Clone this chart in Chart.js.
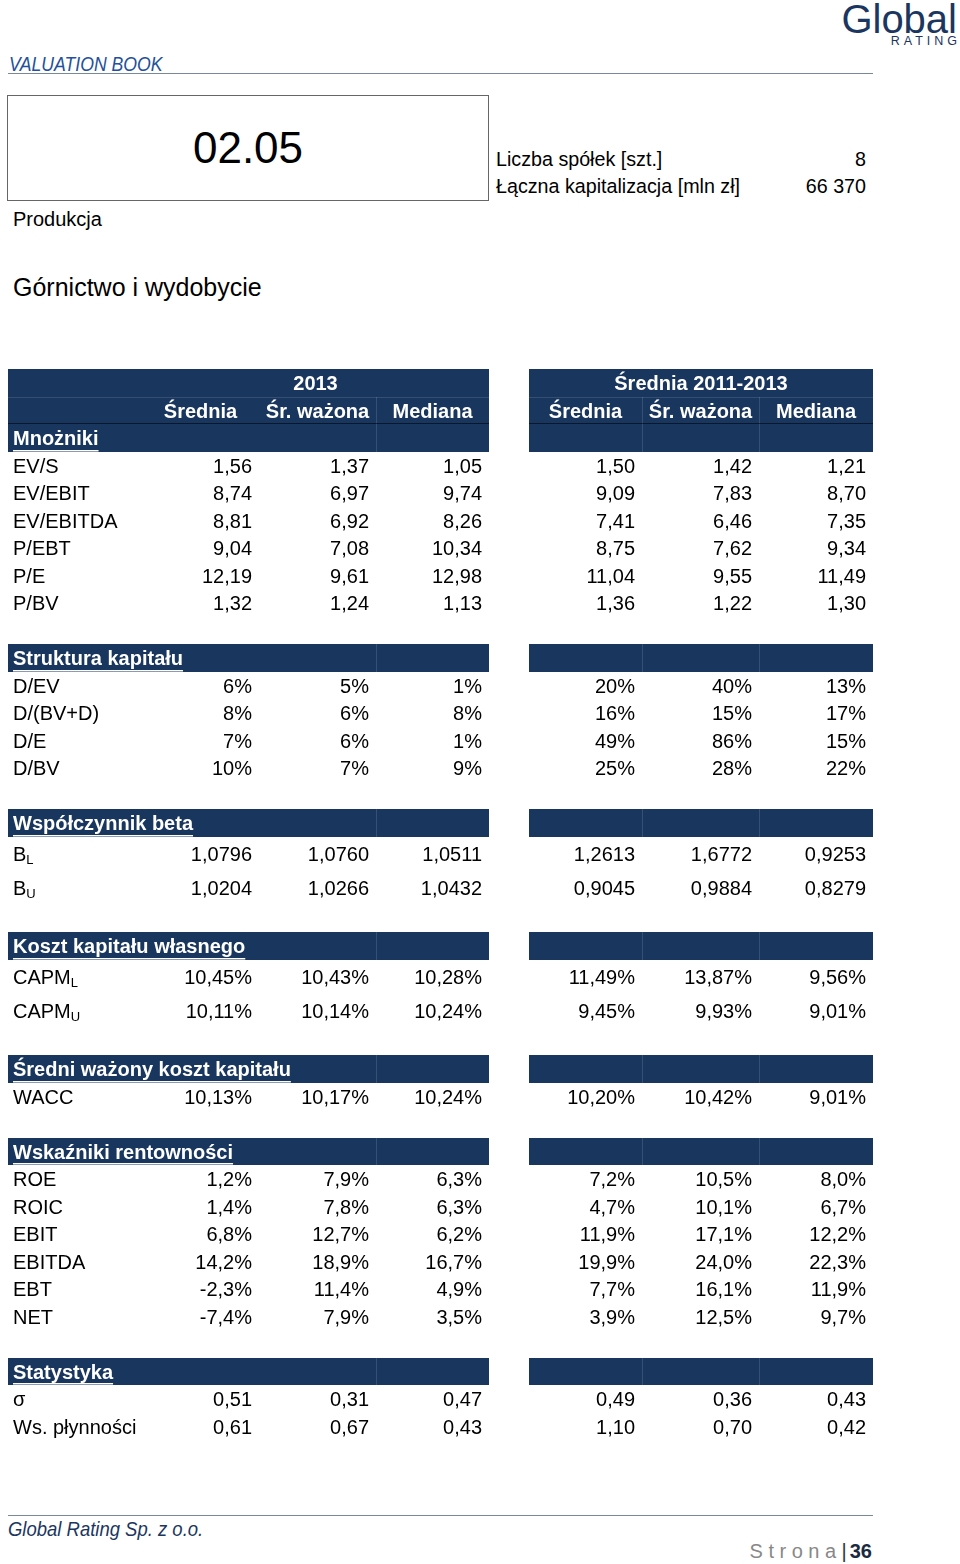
<!DOCTYPE html>
<html lang="pl">
<head>
<meta charset="utf-8">
<title>Valuation Book - Górnictwo i wydobycie</title>
<script src="https://cdn.jsdelivr.net/npm/chart.js@4.4.1/dist/chart.umd.min.js"></script>
<style>
  body { margin: 0; background: #fff; font-family: "Liberation Sans", Arial, sans-serif; color: #000; }
  #page { position: relative; width: 960px; height: 1564px; overflow: hidden; }
  .abs { position: absolute; white-space: nowrap; line-height: 1; }
  #table { position: absolute; left: 0; top: 369px; }
</style>
</head>
<body>
<div id="page">
  <div class="abs" style="right:3px; top:-1px; font-size:40px; color:#1b365f;">Global</div>
  <div class="abs" style="right:-1px; top:35px; font-size:12.5px; letter-spacing:4px; color:#1b365f;">RATING</div>
  <div class="abs" style="left:9px; top:53px; font-size:21px; font-style:italic; color:#23509a; transform:scaleX(0.84); transform-origin:left top;">VALUATION BOOK</div>
  <div class="abs" style="left:8px; top:73px; width:865px; height:1px; background:#7a889c;"></div>

  <div class="abs" style="left:7px; top:95px; width:480px; height:104px; border:1px solid #666; font-size:44px; line-height:104px; text-align:center;">02.05</div>
  <div class="abs" style="left:13px; top:209px; font-size:20px;">Produkcja</div>
  <div class="abs" style="left:496px; top:150px; font-size:19.7px;">Liczba spółek [szt.]</div>
  <div class="abs" style="right:94px; top:150px; font-size:19.7px;">8</div>
  <div class="abs" style="left:496px; top:177px; font-size:19.7px;">Łączna kapitalizacja [mln zł]</div>
  <div class="abs" style="right:94px; top:177px; font-size:19.7px;">66 370</div>
  <div class="abs" style="left:13px; top:275px; font-size:25px;">Górnictwo i wydobycie</div>

  <canvas id="table" width="960" height="1071"></canvas>

  <div class="abs" style="left:8px; top:1515px; width:865px; height:1px; background:#7a889c;"></div>
  <div class="abs" style="left:8px; top:1518px; font-size:21px; font-style:italic; color:#1b365f; transform:scaleX(0.88); transform-origin:left top;">Global Rating Sp. z o.o.</div>
  <div class="abs" style="right:88px; top:1541px; font-size:20px;">
    <span style="color:#888; letter-spacing:5.5px;">Strona</span><span style="color:#333;">|</span><b style="color:#1b2a40; margin-left:3px;">36</b>
  </div>
</div>

<script>
// column headers
const groupTitles = ['2013', 'Średnia 2011-2013'];
const statNames = ['Średnia', 'Śr. ważona', 'Mediana'];

// Mnożniki
const multipleLabels = ['EV/S', 'EV/EBIT', 'EV/EBITDA', 'P/EBT', 'P/E', 'P/BV'];
const multiples2013 = [[1.56, 1.37, 1.05], [8.74, 6.97, 9.74], [8.81, 6.92, 8.26], [9.04, 7.08, 10.34], [12.19, 9.61, 12.98], [1.32, 1.24, 1.13]];
const multiplesAvg = [[1.50, 1.42, 1.21], [9.09, 7.83, 8.70], [7.41, 6.46, 7.35], [8.75, 7.62, 9.34], [11.04, 9.55, 11.49], [1.36, 1.22, 1.30]];

// Struktura kapitału [%]
const capitalLabels = ['D/EV', 'D/(BV+D)', 'D/E', 'D/BV'];
const capital2013 = [[6, 5, 1], [8, 6, 8], [7, 6, 1], [10, 7, 9]];
const capitalAvg = [[20, 40, 13], [16, 15, 17], [49, 86, 15], [25, 28, 22]];

// Współczynnik beta
const betaLabels = ['B_L', 'B_U'];
const beta2013 = [[1.0796, 1.0760, 1.0511], [1.0204, 1.0266, 1.0432]];
const betaAvg = [[1.2613, 1.6772, 0.9253], [0.9045, 0.9884, 0.8279]];

// Koszt kapitału własnego [%]
const equityLabels = ['CAPM_L', 'CAPM_U'];
const equity2013 = [[10.45, 10.43, 10.28], [10.11, 10.14, 10.24]];
const equityAvg = [[11.49, 13.87, 9.56], [9.45, 9.93, 9.01]];

// Średni ważony koszt kapitału [%]
const waccLabels = ['WACC'];
const wacc2013 = [[10.13, 10.17, 10.24]];
const waccAvg = [[10.20, 10.42, 9.01]];

// Wskaźniki rentowności [%]
const profitLabels = ['ROE', 'ROIC', 'EBIT', 'EBITDA', 'EBT', 'NET'];
const profit2013 = [[1.2, 7.9, 6.3], [1.4, 7.8, 6.3], [6.8, 12.7, 6.2], [14.2, 18.9, 16.7], [-2.3, 11.4, 4.9], [-7.4, 7.9, 3.5]];
const profitAvg = [[7.2, 10.5, 8.0], [4.7, 10.1, 6.7], [11.9, 17.1, 12.2], [19.9, 24.0, 22.3], [7.7, 16.1, 11.9], [3.9, 12.5, 9.7]];

// Statystyka
const statLabels = ['σ', 'Ws. płynności'];
const stat2013 = [[0.51, 0.31, 0.47], [0.61, 0.67, 0.43]];
const statAvg = [[0.49, 0.36, 0.43], [1.10, 0.70, 0.42]];

const sections = [
  { title: 'Mnożniki', labels: multipleLabels, a: multiples2013, b: multiplesAvg, dec: 2, pct: false },
  { title: 'Struktura kapitału', labels: capitalLabels, a: capital2013, b: capitalAvg, dec: 0, pct: true },
  { title: 'Współczynnik beta', labels: betaLabels, a: beta2013, b: betaAvg, dec: 4, pct: false, tall: true },
  { title: 'Koszt kapitału własnego', labels: equityLabels, a: equity2013, b: equityAvg, dec: 2, pct: true, tall: true },
  { title: 'Średni ważony koszt kapitału', labels: waccLabels, a: wacc2013, b: waccAvg, dec: 2, pct: true },
  { title: 'Wskaźniki rentowności', labels: profitLabels, a: profit2013, b: profitAvg, dec: 1, pct: true },
  { title: 'Statystyka', labels: statLabels, a: stat2013, b: statAvg, dec: 2, pct: false }
];

// layout (styles only)
const NAVY = '#19365f';
const FONT = '"Liberation Sans", Arial, sans-serif';
const layout = {
  rowH: 27.5, tallH: 34, labelX: 13, pad: 7, textDy: 2,
  groups: [
    { left: 8, right: 489, cols: [142, 259, 376, 489], seps: [376] },
    { left: 529, right: 873, cols: [529, 642, 759, 873], seps: [642, 759] }
  ]
};

function fmt(v, s) {
  return v.toFixed(s.dec).replace('.', ',') + (s.pct ? '%' : '');
}

// rows of the table
const rows = [];
let cursor = 0;
function addRow(kind, h, extra) {
  rows.push(Object.assign({ kind: kind, top: cursor, h: h }, extra || {}));
  cursor += h;
}
addRow('head1', layout.rowH);
addRow('head2', layout.rowH);
sections.forEach((s, si) => {
  if (si > 0) addRow('gap', layout.rowH);
  addRow('section', layout.rowH, { title: s.title });
  s.labels.forEach((lab, i) => {
    addRow('data', s.tall ? layout.tallH : layout.rowH, { label: lab, vals: [s.a[i], s.b[i]], sec: s });
  });
});
const totalH = cursor;

// one point per cell
const cells = [];
rows.forEach(r => {
  const cy = r.top + r.h / 2;
  if (r.kind === 'head1') {
    layout.groups.forEach((g, gi) => cells.push({ x: (g.cols[0] + g.cols[3]) / 2, y: cy, t: groupTitles[gi], align: 'center', style: 'head' }));
  } else if (r.kind === 'head2') {
    layout.groups.forEach(g => statNames.forEach((n, k) =>
      cells.push({ x: (g.cols[k] + g.cols[k + 1]) / 2, y: cy, t: n, align: 'center', style: 'head' })));
  } else if (r.kind === 'section') {
    cells.push({ x: layout.labelX, y: cy, t: r.title, align: 'left', style: 'section' });
  } else if (r.kind === 'data') {
    cells.push({ x: layout.labelX, y: cy, t: r.label, align: 'left', style: 'label' });
    layout.groups.forEach((g, gi) => r.vals[gi].forEach((v, k) =>
      cells.push({ x: g.cols[k + 1] - layout.pad, y: cy, t: fmt(v, r.sec), align: 'right', style: 'value' })));
  }
});

const tablePlugin = {
  id: 'tablePlugin',
  beforeDatasetsDraw(chart) {
    const { ctx, scales: { x, y } } = chart;
    ctx.save();
    rows.forEach(r => {
      if (r.kind !== 'head1' && r.kind !== 'head2' && r.kind !== 'section') return;
      const y0 = Math.round(y.getPixelForValue(r.top));
      const y1 = Math.round(y.getPixelForValue(r.top + r.h));
      layout.groups.forEach(g => {
        const x0 = x.getPixelForValue(g.left), x1 = x.getPixelForValue(g.right);
        ctx.fillStyle = NAVY;
        ctx.fillRect(x0, y0, x1 - x0, y1 - y0);
        if (r.kind !== 'head1') {
          ctx.fillStyle = 'rgba(255,255,255,0.13)';
          g.seps.forEach(sx => ctx.fillRect(Math.round(x.getPixelForValue(sx)), y0, 1, y1 - y0));
        }
        if (r.kind === 'head2') {
          ctx.fillStyle = 'rgba(255,255,255,0.12)';
          ctx.fillRect(x0, y0, x1 - x0, 1);
          ctx.fillStyle = 'rgba(0,0,0,0.55)';
          ctx.fillRect(x0, y1 - 1, x1 - x0, 1.5);
        }
      });
    });
    ctx.restore();
  },
  afterDatasetsDraw(chart) {
    const { ctx } = chart;
    const meta = chart.getDatasetMeta(0);
    ctx.save();
    ctx.textBaseline = 'middle';
    meta.data.forEach((pt, i) => {
      const c = cells[i];
      const px = pt.x, py = pt.y + layout.textDy;
      const bold = c.style === 'head' || c.style === 'section';
      ctx.fillStyle = bold ? '#fff' : '#000';
      ctx.font = (bold ? 'bold ' : '') + '20px ' + FONT;
      ctx.textAlign = c.align;
      const parts = c.t.split('_');
      if (parts.length === 2) {
        ctx.textAlign = 'left';
        ctx.fillText(parts[0], px, py);
        const w = ctx.measureText(parts[0]).width;
        ctx.font = '13px ' + FONT;
        ctx.fillText(parts[1], px + w, py + 5);
      } else {
        ctx.fillText(c.t, px, py);
      }
      if (c.style === 'section') {
        const w = ctx.measureText(c.t).width;
        ctx.fillStyle = '#fff';
        ctx.fillRect(px, Math.round(py + 10), w, 1.5);
      }
    });
    ctx.restore();
  }
};

new Chart(document.getElementById('table'), {
  type: 'scatter',
  data: {
    datasets: [{ data: cells, pointRadius: 0, pointHoverRadius: 0, showLine: false }]
  },
  options: {
    responsive: false,
    animation: false,
    events: [],
    layout: { padding: 0, autoPadding: false },
    plugins: { legend: { display: false }, tooltip: { enabled: false } },
    scales: {
      x: { type: 'linear', min: 0, max: 960, display: false },
      y: { type: 'linear', min: 0, max: totalH, reverse: true, display: false }
    }
  },
  plugins: [tablePlugin]
});
</script>
</body>
</html>
